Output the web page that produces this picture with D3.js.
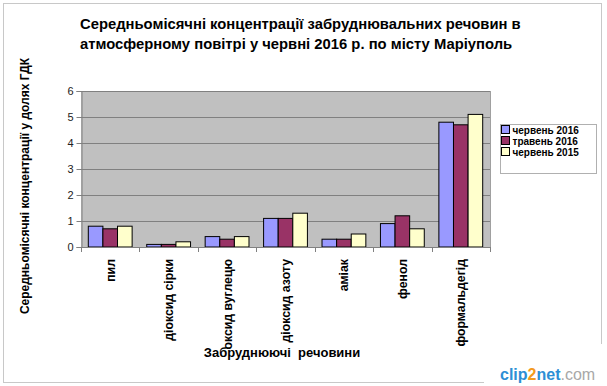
<!DOCTYPE html>
<html>
<head>
<meta charset="utf-8">
<script src="https://cdn.jsdelivr.net/npm/d3@7"></script>
<style>
  html, body { margin: 0; padding: 0; background: #fff; }
  svg text { font-family: "Liberation Sans", Arial, sans-serif; }
</style>
</head>
<body>
<svg id="chart" width="607" height="386"></svg>
<script>
// ---- data ----
const categories = ["пил", "діоксид сірки", "оксид вуглецю", "діоксид азоту", "аміак", "фенол", "формальдегід"];
const seriesNames = ["червень 2016", "травень 2016", "червень 2015"];
const june2016 = [0.8, 0.1, 0.4, 1.1, 0.3, 0.9, 4.8];
const may2016  = [0.7, 0.1, 0.3, 1.1, 0.3, 1.2, 4.7];
const june2015 = [0.8, 0.2, 0.4, 1.3, 0.5, 0.7, 5.1];
const yTicks = [0, 1, 2, 3, 4, 5, 6];
const colors = ["#9999FF", "#993366", "#FFFFCC"];
const titleLines = ["Середньомісячні концентрації забруднювальних речовин в",
                    "атмосферному повітрі у червні 2016 р. по місту Маріуполь"];
const yTitle = "Середньомісячні концентрації у долях ГДК";
const xTitle = "Забруднюючі  речовини";

const seriesValues = [june2016, may2016, june2015];

const svg = d3.select("#chart");

// outer frame
svg.append("rect").attr("x", 3.5).attr("y", 3.5).attr("width", 598).attr("height", 379)
  .attr("fill", "#fff").attr("stroke", "#c8c8c8").attr("stroke-width", 1);

const pL = 81, pR = 490, pT = 91, pB = 247;

const x0 = d3.scaleBand().domain(categories).range([pL, pR]).paddingInner(0.25).paddingOuter(0.125);
const x1 = d3.scaleBand().domain(seriesNames).range([0, x0.bandwidth()]);
const y = d3.scaleLinear().domain([0, 6]).range([pB, pT]);

// plot background
svg.append("rect").attr("x", pL).attr("y", pT).attr("width", pR - pL).attr("height", pB - pT)
  .attr("fill", "#C0C0C0");

// gridlines
svg.append("g").selectAll("line").data(yTicks.filter(d => d > 0)).join("line")
  .attr("x1", pL).attr("x2", pR)
  .attr("y1", d => Math.round(y(d)) + 0.5).attr("y2", d => Math.round(y(d)) + 0.5)
  .attr("stroke", "#808080").attr("stroke-width", 1);

// right border of plot area
svg.append("line").attr("x1", pR + 0.5).attr("x2", pR + 0.5).attr("y1", pT).attr("y2", pB)
  .attr("stroke", "#a0a0a0");

// bars
const groups = svg.append("g").selectAll("g").data(categories).join("g")
  .attr("transform", d => `translate(${x0(d)},0)`);
groups.selectAll("rect").data((c, i) => seriesNames.map((s, j) => ({s, v: seriesValues[j][i], j})))
  .join("rect")
  .attr("x", d => x1(d.s))
  .attr("y", d => y(d.v))
  .attr("width", x1.bandwidth())
  .attr("height", d => y(0) - y(d.v))
  .attr("fill", d => colors[d.j])
  .attr("stroke", "#000").attr("stroke-width", 1);

// y axis
const yAxis = d3.axisLeft(y).tickValues(yTicks).tickSize(5).tickPadding(3).tickFormat(d3.format("d"));
const gy = svg.append("g").attr("transform", `translate(${pL + 0.5},0)`).call(yAxis);
gy.select(".domain").attr("stroke", "#808080");
gy.selectAll(".tick line").attr("stroke", "#808080");
gy.selectAll(".tick text").attr("font-size", 11).attr("fill", "#222")
  .attr("font-family", "Liberation Sans, Arial, sans-serif");

// x axis (ticks between categories)
svg.append("line").attr("x1", pL).attr("x2", pR).attr("y1", pB + 0.5).attr("y2", pB + 0.5)
  .attr("stroke", "#808080");
svg.append("g").selectAll("line").data(categories.concat(["end"])).join("line")
  .attr("x1", (d, i) => Math.round(pL + i * x0.step()) + 0.5)
  .attr("x2", (d, i) => Math.round(pL + i * x0.step()) + 0.5)
  .attr("y1", pB).attr("y2", pB + 5)
  .attr("stroke", "#808080");

// category labels (rotated)
svg.append("g").selectAll("text").data(categories).join("text")
  .attr("transform", d => `translate(${x0(d) + x0.bandwidth() / 2 + 4.5},259) rotate(-90)`)
  .attr("text-anchor", "end")
  .attr("font-size", 12.3).attr("font-weight", "bold").attr("fill", "#000")
  .text(d => d);

// x title
svg.append("text").attr("x", 282).attr("y", 357).attr("text-anchor", "middle")
  .attr("font-size", 13).attr("font-weight", "bold").attr("fill", "#000")
  .style("white-space", "pre")
  .text(xTitle);

// y title
svg.append("text").attr("transform", "translate(29,186) rotate(-90)").attr("text-anchor", "middle")
  .attr("font-size", 12).attr("font-weight", "bold").attr("fill", "#000")
  .text(yTitle);

// title
svg.append("g").selectAll("text").data(titleLines).join("text")
  .attr("x", 80).attr("y", (d, i) => 29 + i * 20)
  .attr("font-size", 14.8).attr("font-weight", "bold").attr("fill", "#000")
  .text(d => d);

// legend
const lg = svg.append("g").attr("transform", "translate(500,124)");
lg.append("rect").attr("x", 0.5).attr("y", 0.5).attr("width", 96).attr("height", 49)
  .attr("fill", "#fff").attr("stroke", "#b0b0b0");
const li = lg.selectAll("g").data(seriesNames).join("g")
  .attr("transform", (d, i) => `translate(1.5,${1.5 + i * 11})`);
li.append("rect").attr("width", 8).attr("height", 8)
  .attr("fill", (d, i) => colors[i]).attr("stroke", "#000");
li.append("text").attr("x", 11).attr("y", 8.5)
  .attr("font-size", 10).attr("font-weight", "bold").attr("fill", "#000")
  .text(d => d);

// watermark
const wm = svg.append("g");
wm.append("rect").attr("x", 484).attr("y", 344).attr("width", 123).attr("height", 42).attr("fill", "#fff");
const wt = wm.append("text").attr("x", 500).attr("y", 380).attr("font-size", 16).attr("font-weight", "bold");
wt.append("tspan").attr("fill", "#2d8fd5").text("clip");
wt.append("tspan").attr("fill", "#f39a1e").text("2");
wt.append("tspan").attr("fill", "#2d8fd5").text("net");
wt.append("tspan").attr("fill", "#a8a8a8").attr("font-weight", "normal").text(".com");
</script>
</body>
</html>
